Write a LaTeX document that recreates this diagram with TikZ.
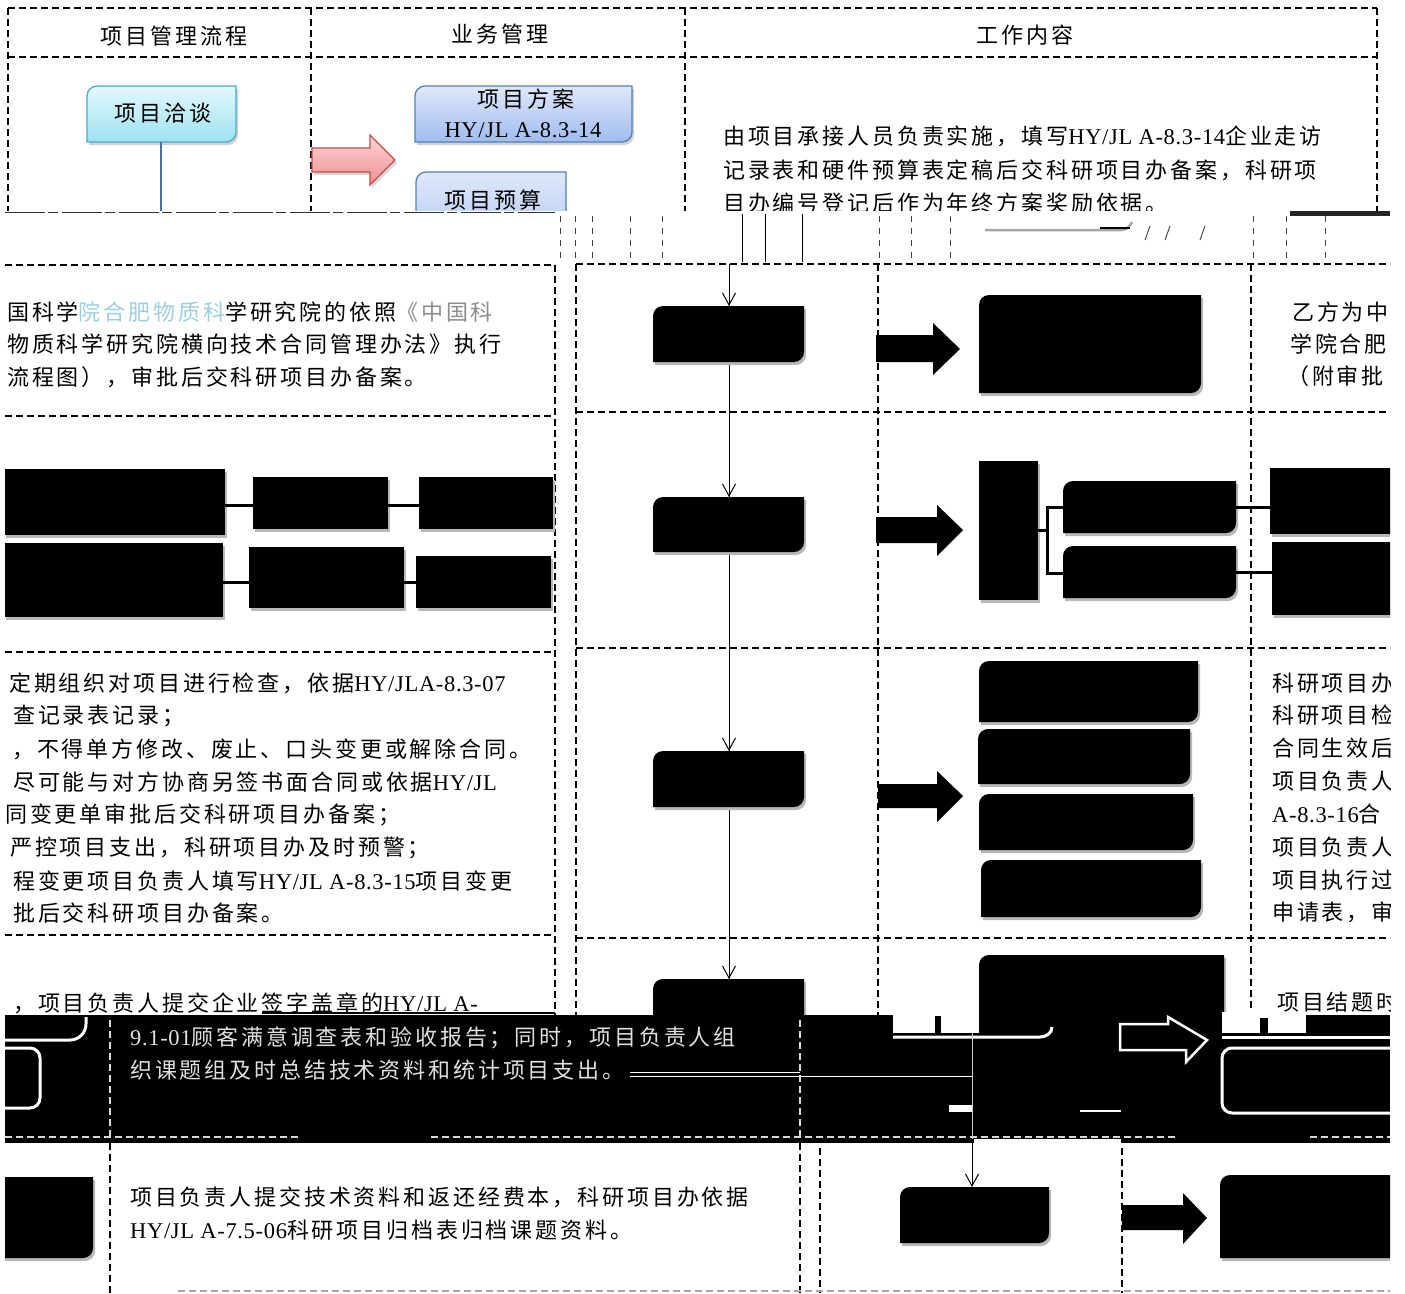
\documentclass[tikz,border=0pt]{standalone}
\usepackage{fontspec}
\setmainfont{Liberation Serif}
\newfontfamily\cjkf[LetterSpace=13]{Noto Sans CJK SC}
\newfontfamily\latf[LetterSpace=3]{Liberation Serif}
\usetikzlibrary{arrows.meta}
\newcommand\Lt[1]{{\latf\fontsize{22.5}{24}\selectfont #1}}
\def\rrad{10}
% rounded top-left and bottom-right corners: style, L, T, R, B (pixel coords, y down)
\newcommand\rbx[5]{\path[#1] (#2,-#5) -- (#2,-#3-\rrad) arc[start angle=180,end angle=90,radius=\rrad] -- (#4,-#3) -- (#4,-#5+\rrad) arc[start angle=0,end angle=-90,radius=\rrad] -- cycle;}
\newcommand\bbx[4]{\rbx{fill=black!28,shift={(2,-3)}}{#1}{#2}{#3}{#4}\rbx{fill=black}{#1}{#2}{#3}{#4}}
\newcommand\brect[4]{\fill[black!28] (#1+2,-#2-3) rectangle (#3+2,-#4-3); \fill[black] (#1,-#2) rectangle (#3,-#4);}
% block arrow: style, L, shaftT, shaftB, headX, headT, headB, tipX, tipY
\newcommand\barr[9]{\path[#1] (#2,-#3) -- (#5,-#3) -- (#5,-#6) -- (#8,-#9) -- (#5,-#7) -- (#5,-#4) -- (#2,-#4) -- cycle;}
\definecolor{cyanTop}{HTML}{E3F8FC}
\definecolor{cyanBot}{HTML}{9EE2F2}
\definecolor{cyanLine}{HTML}{4BACC6}
\definecolor{blueTop}{HTML}{DFE8FA}
\definecolor{blueBot}{HTML}{A1BCEF}
\definecolor{blueLine}{HTML}{4F81BD}
\definecolor{redTop}{HTML}{FCD6D6}
\definecolor{redBot}{HTML}{F08E8E}
\definecolor{redLine}{HTML}{C0504D}
\definecolor{flowBlue}{HTML}{4A6FA5}
\definecolor{fadeCyan}{HTML}{9CCFE0}
\begin{document}
\begin{tikzpicture}[x=1pt,y=1pt,
  grid/.style={draw=black,line width=1.3pt,dash pattern=on 7pt off 4pt},
  sgrid/.style={draw=black!75,line width=1pt,dash pattern=on 6pt off 6pt},
  wgrid/.style={draw=white!85!black,line width=1.3pt,dash pattern=on 7pt off 4pt},
  txt/.style={font=\cjkf\fontsize{22}{26}\selectfont,inner sep=0pt,anchor=west},
  ctxt/.style={font=\cjkf\fontsize{22}{26}\selectfont,inner sep=0pt,anchor=center},
  wtxt/.style={txt,text=white!88!black},
  flow/.style={line width=1pt,-{Straight Barb[length=12pt,width=13pt]}},
  conn/.style={line width=3pt}]
\useasboundingbox (0,0) rectangle (1405,-1293);
\fill[white] (0,0) rectangle (1405,-1293);

% ================= TOP SECTION =================
\begin{scope}
\clip (0,0) rectangle (1405,-210);
\draw[grid] (8,-8) -- (1377,-8);
\draw[grid] (8,-57) -- (1377,-57);
\draw[grid] (8,-8) -- (8,-212);
\draw[grid] (311,-8) -- (311,-212);
\draw[grid] (685,-8) -- (685,-212);
\draw[grid] (1377,-8) -- (1377,-212);
\node[ctxt] (h1) at (174,-36) {项目管理流程};
\node[ctxt] (h2) at (500,-34) {业务管理};
\node[ctxt] (h3) at (1025,-35) {工作内容};
% boxes
\rbx{fill=black!18,shift={(2,-3)}}{87}{86}{236}{142}
\rbx{top color=cyanTop,bottom color=cyanBot,draw=cyanLine,line width=1.3pt}{87}{86}{236}{142}
\node[ctxt] (qt) at (163,-113) {项目洽谈};
\coordinate (qts) at (161,-142);
\coordinate (qte) at (161,-212);
\draw[flowBlue,line width=1.3pt] (qts) -- (qte);
\barr{fill=black!15,shift={(2,-3)}}{312}{148}{172}{370}{135}{185}{395}{160}
\barr{top color=redTop,bottom color=redBot,draw=redLine,line width=1.3pt}{312}{148}{172}{370}{135}{185}{395}{160}
\rbx{fill=black!18,shift={(2,-3)}}{415}{86}{632}{142}
\rbx{top color=blueTop,bottom color=blueBot,draw=blueLine,line width=1.3pt}{415}{86}{632}{142}
\node[ctxt] (fa1) at (526,-99) {项目方案};
\node[inner sep=0pt] (fa2) at (523,-130) {\Lt{HY/JL A-8.3-14}};
\rbx{top color=blueTop,bottom color=blueBot!80!white,draw=blueLine,line width=1.3pt}{416}{172}{566}{240}
\node[ctxt] (ys) at (493,-200) {项目预算};
\node[txt] (t1) at (723,-136) {由项目承接人员负责实施，填写\Lt{HY/JL A-8.3-14}企业走访};
\node[txt] (t2) at (723,-170) {记录表和硬件预算表定稿后交科研项目办备案，科研项};
\node[txt] (t3) at (723,-203) {目办编号登记后作为年终方案奖励依据。};
\end{scope}

% ================= MAIN (shifted) REGION =================
\begin{scope}
\clip (5,-210) rectangle (1390,-1293);
% band fragments 210-265
\draw[black!80,line width=1pt,dash pattern=on 40pt off 3pt on 10pt off 4pt] (5,-212) -- (555,-212);
\fill[black!85] (1290,-211) rectangle (1390,-216);
\draw[black!35,line width=2.5pt] (985,-230) -- (1122,-230) to[out=0,in=-120] (1132,-222);
\draw[black,line width=1.8pt] (1100,-228) -- (1130,-228);
\foreach \xx in {742,765,802} \draw[black,line width=1pt] (\xx,-214) -- (\xx,-262);
\foreach \xx in {560,575,592,630,662,879,911,950,1253,1286,1325} \draw[sgrid] (\xx,-216) -- (\xx,-262);
\foreach \xx in {1145,1165,1200} \draw[black!70,line width=1pt] (\xx,-240) -- (\xx+5,-226);

% grid
\draw[grid] (5,-265) -- (555,-265);
\draw[grid] (576,-264) -- (1390,-264);
\draw[grid] (5,-416) -- (553,-416);
\draw[grid] (5,-652) -- (553,-652);
\draw[grid] (5,-935) -- (553,-935);
\draw[grid] (576,-412) -- (1390,-412);
\draw[grid] (576,-648) -- (1390,-648);
\draw[grid] (576,-938) -- (1390,-938);
\draw[grid] (555,-265) -- (555,-1015);
\draw[grid] (576,-264) -- (576,-1015);
\draw[grid] (878,-264) -- (878,-1015);
\draw[grid] (1251,-264) -- (1251,-1015);

% left texts
\node[txt] (l1) at (7,-312) {国科学\textcolor{fadeCyan}{院合肥物质科}学研究院的依照\textcolor{black!45}{《中国科}};
\node[txt] (l2) at (7,-344) {物质科学研究院横向技术合同管理办法》执行};
\node[txt] (l3) at (7,-377) {流程图），审批后交科研项目办备案。};
\node[txt] (l4) at (9,-683) {定期组织对项目进行检查，依据\Lt{HY/JLA-8.3-07}};
\node[txt] (l5) at (13,-716) {查记录表记录；};
\node[txt] (l6) at (12,-749) {，不得单方修改、废止、口头变更或解除合同。};
\node[txt] (l7) at (13,-782) {尽可能与对方协商另签书面合同或依据\Lt{HY/JL}};
\node[txt] (l8) at (5,-815) {同变更单审批后交科研项目办备案；};
\node[txt] (l9) at (10,-848) {严控项目支出，科研项目办及时预警；};
\node[txt] (l10) at (13,-881) {程变更项目负责人填写\Lt{HY/JL A-8.3-15}项目变更};
\node[txt] (l11) at (13,-913) {批后交科研项目办备案。};
\node[txt] (l12) at (13,-1003) {，项目负责人提交企业签字盖章的\Lt{HY/JL A-}};
\draw[black,line width=1.2pt] (262,-1013) -- (555,-1013);

% left boxes
\brect{4}{469}{225}{535}
\brect{253}{477}{388}{529}
\brect{419}{477}{553}{529}
\brect{4}{543}{223}{617}
\brect{249}{547}{404}{608}
\brect{416}{556}{551}{608}
\coordinate (r1a) at (225,-505); \coordinate (r1b) at (253,-505);
\coordinate (r1c) at (388,-505); \coordinate (r1d) at (419,-505);
\coordinate (r2a) at (223,-582); \coordinate (r2b) at (249,-582);
\coordinate (r2c) at (404,-582); \coordinate (r2d) at (416,-582);
\draw[conn] (r1a) -- (r1b); \draw[conn] (r1c) -- (r1d);
\draw[conn] (r2a) -- (r2b); \draw[conn] (r2c) -- (r2d);

% flow column
\coordinate (ft) at (729,-264);
\coordinate (f1n) at (729,-306); \coordinate (f1s) at (729,-362);
\coordinate (f2n) at (729,-497); \coordinate (f2s) at (729,-552);
\coordinate (f3n) at (729,-751); \coordinate (f3s) at (729,-807);
\coordinate (f4n) at (729,-979); \coordinate (f4s) at (729,-1015);
\draw[line width=1pt] (ft) -- (f4s);
\draw[flow] (ft) -- (f1n);
\draw[flow] (f1s) -- (f2n);
\draw[flow] (f2s) -- (f3n);
\draw[flow] (f3s) -- (f4n);
\bbx{653}{306}{804}{362}
\bbx{653}{497}{804}{552}
\bbx{653}{751}{804}{807}
\bbx{653}{979}{804}{1040}

% block arrows
\barr{fill=black}{876}{335}{362}{933}{323}{375}{960}{349}
\barr{fill=black}{876}{517}{543}{937}{505}{556}{963}{530}
\barr{fill=black}{878}{784}{808}{937}{771}{822}{963}{796}

% third column boxes
\bbx{979}{295}{1201}{393}
\brect{979}{461}{1038}{600}
\bbx{1063}{481}{1236}{533}
\bbx{1063}{546}{1236}{598}
\coordinate (br0) at (1038,-530); \coordinate (br1) at (1047,-530);
\coordinate (br2) at (1047,-507); \coordinate (br3) at (1047,-573);
\coordinate (ba) at (1063,-507); \coordinate (bb) at (1063,-573);
\draw[conn] (br0) -- (br1);
\draw[conn] (ba) -- (br2) -- (br3) -- (bb);
\coordinate (ra) at (1236,-507); \coordinate (rb) at (1270,-507);
\coordinate (rc) at (1236,-572); \coordinate (rd) at (1272,-572);
\draw[conn] (ra) -- (rb); \draw[conn] (rc) -- (rd);
\brect{1270}{468}{1400}{534}
\brect{1272}{542}{1400}{615}
\bbx{979}{661}{1198}{722}
\bbx{978}{729}{1190}{784}
\bbx{979}{794}{1193}{850}
\bbx{981}{860}{1201}{917}
\bbx{979}{955}{1224}{1045}

% right texts
\node[txt] (p1) at (1292,-312) {乙方为中};
\node[txt] (p2) at (1290,-344) {学院合肥};
\node[txt] (p3) at (1287,-376) {（附审批};
\node[txt] (q1) at (1272,-683) {科研项目办};
\node[txt] (q2) at (1272,-715) {科研项目检};
\node[txt] (q3) at (1272,-748) {合同生效后};
\node[txt] (q4) at (1272,-781) {项目负责人};
\node[txt] (q5) at (1272,-814) {\Lt{A-8.3-16}合};
\node[txt] (q6) at (1272,-847) {项目负责人};
\node[txt] (q7) at (1272,-880) {项目执行过};
\node[txt] (q8) at (1272,-912) {申请表，审};
\node[txt] (q9) at (1277,-1002) {项目结题时};

% ================= BLACK BAND =================
\fill[black] (5,-1015) rectangle (1390,-1143);
\fill[white] (893,-1012) rectangle (979,-1033);
\fill[black] (935,-1016) rectangle (941,-1033);
\draw[white,line width=3pt] (893,-1037) -- (1040,-1037) to[out=0,in=-90] (1052,-1027);
\fill[white] (1222,-1012) rectangle (1306,-1033);
\fill[black] (1260,-1018) rectangle (1268,-1033);
\draw[white,line width=3pt] (1222,-1037) -- (1390,-1037);
\draw[white,line width=2.5pt] (1120,-1024) -- (1168,-1024) -- (1168,-1017) -- (1207,-1040) -- (1186,-1062) -- (1186,-1050) -- (1120,-1050) -- cycle;
\draw[white,line width=3pt,rounded corners=10pt] (1222,-1048) rectangle (1410,-1113);
\fill[white] (949,-1105) rectangle (972,-1112);
\draw[white,line width=1.2pt] (1080,-1111) -- (1121,-1111);
\draw[white,line width=1pt] (630,-1072) -- (800,-1072);
\draw[white,line width=1pt] (630,-1076) -- (972,-1076);
\draw[white,line width=3pt] (5,-1048) -- (30,-1048) to[out=0,in=90] (40,-1058) -- (40,-1098) to[out=-90,in=0] (30,-1108) -- (5,-1108);
\draw[white,line width=3pt] (5,-1040) -- (70,-1040) to[out=0,in=-90] (86,-1024) -- (86,-1017);
\draw[wgrid] (110,-1020) -- (110,-1140);
\draw[wgrid] (800,-1020) -- (800,-1140);
\draw[wgrid] (5,-1137) -- (300,-1137);
\draw[wgrid] (431,-1137) -- (1178,-1137);
\draw[wgrid] (1310,-1137) -- (1390,-1137);
\fill[white] (974,-1139) rectangle (1121,-1146);
\node[wtxt] (w1) at (130,-1038) {\Lt{9.1-01}顾客满意调查表和验收报告；同时，项目负责人组};
\node[wtxt] (w2) at (130,-1070) {织课题组及时总结技术资料和统计项目支出。};

% ================= BOTTOM =================
\draw[grid] (110,-1143) -- (110,-1293);
\draw[grid] (800,-1143) -- (800,-1293);
\draw[grid] (820,-1148) -- (820,-1293);
\draw[grid] (1122,-1148) -- (1122,-1293);
\draw[grid,draw=black!35] (178,-1291) -- (1390,-1291);
\bbx{-20}{1177}{93}{1258}
\node[txt] (b1) at (130,-1197) {项目负责人提交技术资料和返还经费本，科研项目办依据};
\node[txt] (b2) at (130,-1230) {\Lt{HY/JL A-7.5-06}科研项目归档表归档课题资料。};
\coordinate (fb0) at (972,-1033);
\coordinate (fb1) at (972,-1139);
\coordinate (fb2) at (972,-1187);
\draw[white!80!black,line width=1pt] (fb0) -- (fb1);
\draw[flow] (fb1) -- (fb2);
\bbx{900}{1187}{1049}{1243}
\barr{fill=black}{1122}{1205}{1230}{1183}{1193}{1244}{1207}{1218}
\bbx{1220}{1175}{1420}{1258}
\end{scope}
\end{tikzpicture}
\end{document}
